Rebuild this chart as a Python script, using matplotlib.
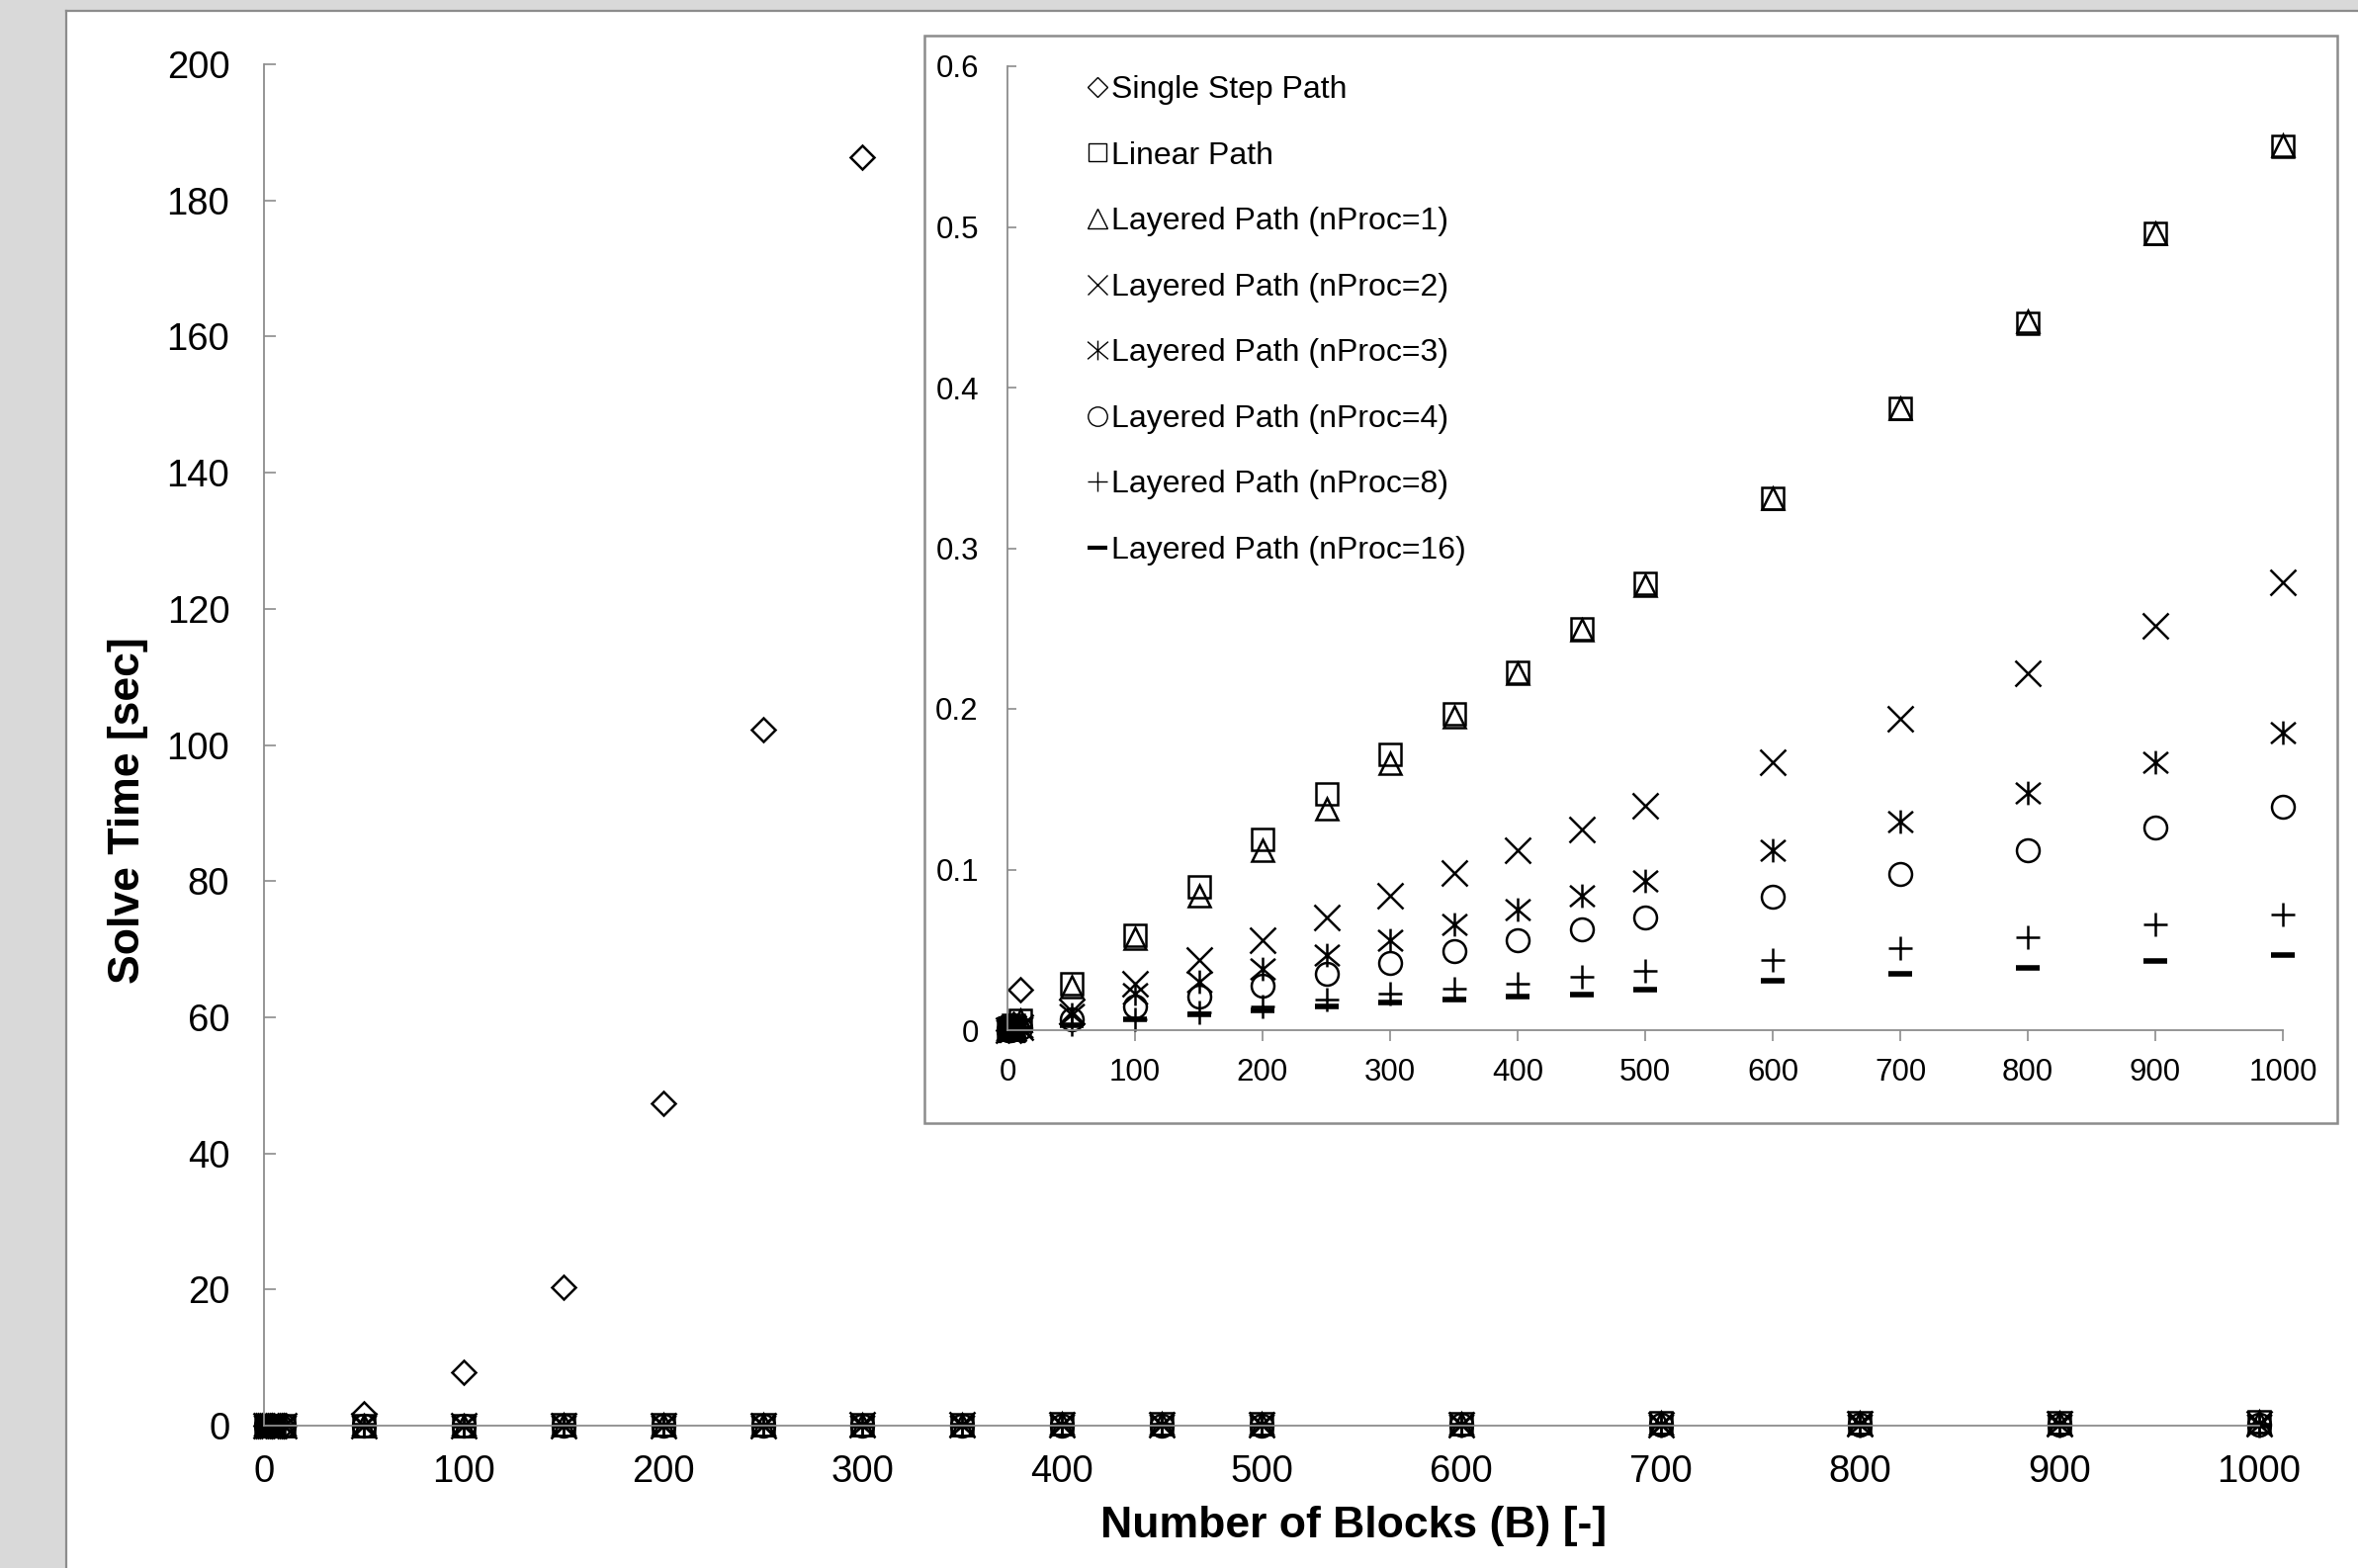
import numpy as np
import matplotlib.pyplot as plt
from matplotlib.path import Path
from matplotlib.lines import Line2D
from matplotlib.patches import Rectangle

plt.rcParams['font.family'] = ['Liberation Sans', 'DejaVu Sans']

# number of blocks
x_small = [1, 2, 3, 4, 5, 10]
x_big = [50, 100, 150, 200, 250, 300, 350, 400, 450, 500, 600, 700, 800, 900, 1000]
x_all = x_small + x_big

# single step only goes up to B=300
x_single = [1, 2, 3, 4, 5, 10, 50, 100, 150, 200, 250, 300]
single_step = [0.0001, 0.0004, 0.001, 0.002, 0.004, 0.025, 1.8, 7.8, 20.3, 47.4, 102.3, 186.4]

linear = [0.0005, 0.001, 0.0015, 0.002, 0.003, 0.006,
          0.029, 0.059, 0.089, 0.119, 0.147, 0.172, 0.197, 0.223, 0.250, 0.278, 0.331, 0.387, 0.440, 0.496, 0.550]
layered1 = [0.0005, 0.001, 0.0015, 0.002, 0.003, 0.006,
            0.027, 0.057, 0.084, 0.112, 0.138, 0.166, 0.195, 0.222, 0.249, 0.277, 0.331, 0.387, 0.441, 0.496, 0.551]
layered2 = [0.0002, 0.0004, 0.0006, 0.0008, 0.001, 0.002,
            0.012, 0.029, 0.044, 0.056, 0.070, 0.084, 0.098, 0.112, 0.125, 0.140, 0.167, 0.194, 0.222, 0.252, 0.279]
layered3 = [0.0002, 0.0003, 0.0005, 0.0007, 0.001, 0.002,
            0.010, 0.023, 0.030, 0.038, 0.047, 0.056, 0.066, 0.075, 0.084, 0.093, 0.112, 0.130, 0.148, 0.167, 0.185]
layered4 = [0.0001, 0.0003, 0.0004, 0.0006, 0.0008, 0.0015,
            0.007, 0.015, 0.021, 0.028, 0.035, 0.042, 0.049, 0.056, 0.063, 0.070, 0.083, 0.097, 0.112, 0.126, 0.139]
layered8 = [0.0001, 0.0002, 0.0003, 0.0004, 0.0005, 0.001,
            0.004, 0.007, 0.011, 0.015, 0.019, 0.023, 0.026, 0.029, 0.033, 0.037, 0.044, 0.051, 0.058, 0.066, 0.072]
layered16 = [0.0001, 0.0002, 0.0003, 0.0004, 0.0005, 0.001,
             0.003, 0.007, 0.010, 0.0125, 0.0145, 0.0175, 0.019, 0.021, 0.022, 0.025, 0.031, 0.035, 0.039, 0.043, 0.0465]

labels = ['Single Step Path', 'Linear Path', 'Layered Path (nProc=1)', 'Layered Path (nProc=2)',
          'Layered Path (nProc=3)', 'Layered Path (nProc=4)', 'Layered Path (nProc=8)',
          'Layered Path (nProc=16)']

main_ticks = [0, 20, 40, 60, 80, 100, 120, 140, 160, 180, 200]
inset_ticks = [0, 0.1, 0.2, 0.3, 0.4, 0.5, 0.6]
x_ticks = [0, 100, 200, 300, 400, 500, 600, 700, 800, 900, 1000]

# asterisk = x with a vertical bar, like excel's
star = Path([(-1, -0.85), (1, 0.85), (-1, 0.85), (1, -0.85), (0, -0.95), (0, 0.95)],
            [Path.MOVETO, Path.LINETO, Path.MOVETO, Path.LINETO, Path.MOVETO, Path.LINETO])

series = [(x_single, single_step), (x_all, linear), (x_all, layered1), (x_all, layered2),
          (x_all, layered3), (x_all, layered4), (x_all, layered8), (x_all, layered16)]
markers = ['D', 's', '^', 'x', star, 'o', '+', '_']
sizes = [12.5, 16, 16, 19, 18, 16.5, 17, 17]
widths = [1.8, 1.8, 1.8, 1.8, 1.8, 1.8, 1.8, 4.0]
leg_sizes = [10, 13.5, 14, 15, 15, 14, 15, 15]
leg_widths = [1, 1, 1, 1, 1, 1, 1, 3]

gray = '#8c8c8c'
fig = plt.figure(figsize=(23.85, 15.86), dpi=100, facecolor='#d9d9d9')

# white chart area with gray border at left/top
fig.patches.append(Rectangle((67 / 2385, 0), 1, 1 - 11 / 1586, transform=fig.transFigure,
                             facecolor='white', edgecolor='none', zorder=-1))
fig.add_artist(Line2D([67 / 2385, 67 / 2385], [0, 1 - 11 / 1586], transform=fig.transFigure,
                      color=gray, lw=1.6, zorder=-0.5))
fig.add_artist(Line2D([67 / 2385, 1], [1 - 11 / 1586, 1 - 11 / 1586], transform=fig.transFigure,
                      color=gray, lw=1.6, zorder=-0.5))

ax = fig.add_axes([267 / 2385, 1 - 1442 / 1586, 2018 / 2385, 1377 / 1586])
ax.set_facecolor('none')
for (xs, ys), m, s, w in zip(series, markers, sizes, widths):
    ax.plot(xs, ys, ls='none', marker=m, ms=s, mew=w, mfc='none', mec='black', clip_on=False)
ax.set_xlim(0, 1000)
ax.set_ylim(0, 200)
ax.set_xticks(x_ticks)
ax.set_yticks(main_ticks)
for sp in ['top', 'right']:
    ax.spines[sp].set_visible(False)
for sp in ['left', 'bottom']:
    ax.spines[sp].set_color(gray)
    ax.spines[sp].set_linewidth(1.3)
ax.tick_params(axis='y', direction='in', length=8.5, width=1.2, color=gray, pad=25, labelsize=27.5)
ax.tick_params(axis='x', direction='out', length=6, width=1.2, color=gray, pad=15, labelsize=27.5)

fig.text(129 / 2385, 1 - 820 / 1586, 'Solve Time [sec]', rotation=90, ha='center', va='center',
         fontsize=32, fontweight='bold')
fig.text(1369 / 2385, 1 - 1544 / 1586, 'Number of Blocks (B) [-]', ha='center', va='center',
         fontsize=32, fontweight='bold')

# inset box
fig.patches.append(Rectangle((935 / 2385, 1 - 1136 / 1586), 1429 / 2385, 1100 / 1586,
                             transform=fig.transFigure, facecolor='white', edgecolor=gray,
                             lw=1.8, zorder=1))

ins = fig.add_axes([1019 / 2385, 1 - 1042 / 1586, 1290 / 2385, 975 / 1586], zorder=2)
ins.set_facecolor('none')
for (xs, ys), m, s, w in zip(series, markers, sizes, widths):
    ys = np.array(ys, dtype=float)
    ys[ys > 0.6] = np.nan
    ins.plot(xs, ys, ls='none', marker=m, ms=s, mew=w, mfc='none', mec='black', clip_on=False)
ins.set_xlim(0, 1000)
ins.set_ylim(0, 0.6)
ins.set_xticks(x_ticks)
ins.set_yticks(inset_ticks)
ins.set_yticklabels(['0' if t == 0 else f'{t:.1f}' for t in inset_ticks])
for sp in ['top', 'right']:
    ins.spines[sp].set_visible(False)
for sp in ['left', 'bottom']:
    ins.spines[sp].set_color(gray)
    ins.spines[sp].set_linewidth(1.3)
ins.tick_params(axis='y', direction='in', length=6.5, width=1.2, color=gray, pad=21, labelsize=22.5)
ins.tick_params(axis='x', direction='out', length=8, width=1.2, color=gray, pad=12, labelsize=22.5)

handles = [Line2D([], [], ls='none', marker=m, ms=s, mew=w, mfc='none', mec='black')
           for m, s, w in zip(markers, leg_sizes, leg_widths)]
ins.legend(handles, labels, loc='upper left', bbox_to_anchor=(1100 / 2385, 1 - 76 / 1586),
           bbox_transform=fig.transFigure, frameon=False, fontsize=23, handlelength=0.6,
           handletextpad=0.15, labelspacing=1.145, borderpad=0, borderaxespad=0)

fig.savefig('out.png', dpi=100, facecolor=fig.get_facecolor())
